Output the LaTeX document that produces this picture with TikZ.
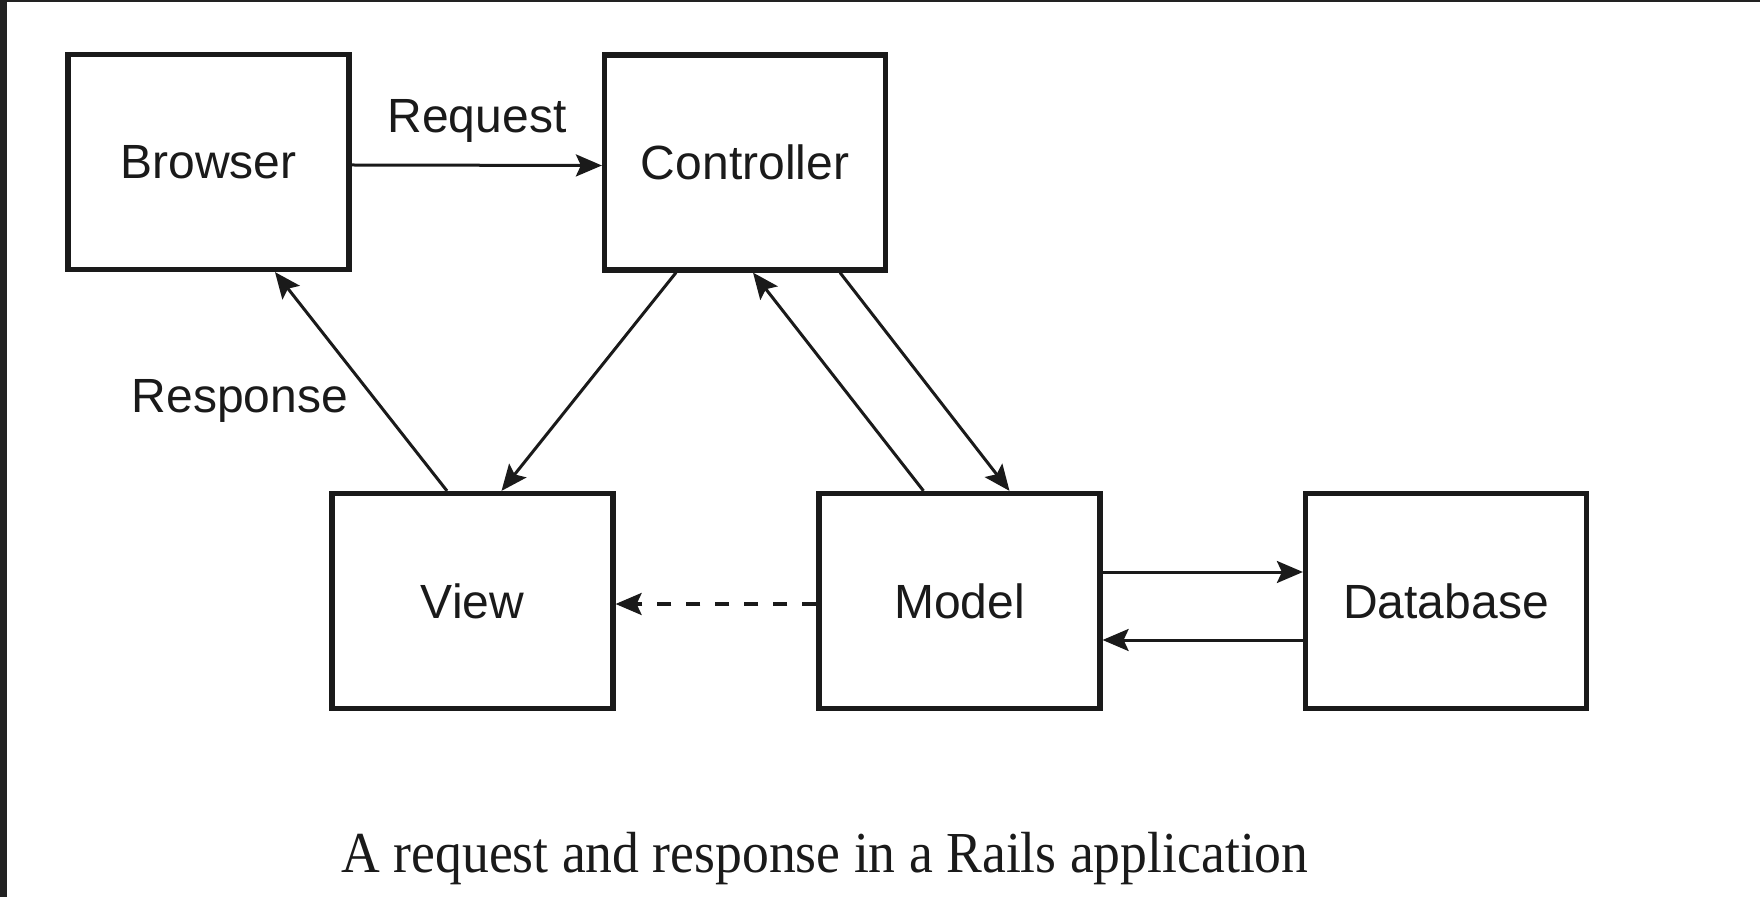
\documentclass[tikz,border=0pt]{standalone}
\usepackage{fontspec}
\setmainfont{Liberation Serif}
\setsansfont{Liberation Sans}
\usetikzlibrary{arrows.meta,calc}
\definecolor{frame}{HTML}{222222}
\definecolor{ink}{HTML}{1A1A1A}

\begin{document}
\begin{tikzpicture}[x=0.5pt,y=-0.5pt,
  box/.style={draw=ink, line width=2.6pt, minimum width=140.5pt, minimum height=107.5pt,
    inner sep=0pt, text=ink, font=\sffamily\fontsize{24}{28}\selectfont},
  flow/.style={draw=ink, line width=1.5pt, -{Stealth[length=13pt,width=11pt,inset=2.5pt]}},
  lbl/.style={text=ink, font=\sffamily\fontsize{24}{28}\selectfont, inner sep=0pt, anchor=base}]

  % canvas and the dark frame strips
  \useasboundingbox (0,0) rectangle (1760,897);
  \fill[white] (0,0) rectangle (1760,897);
  \fill[frame] (0,0) rectangle (1760,2.5);
  \fill[frame] (0,0) rectangle (7,897);

  % components
  \node[box] (brow) at (208.5,162) {Browser};
  \node[box] (ctrl) at (745,162.5) {Controller};
  \node[box] (view) at (472.5,601) {View};
  \node[box] (model) at (959.5,601) {Model};
  \node[box] (db) at (1446,601) {Database};

  % request / response
  \draw[flow] ($(brow.east)+(0,3)$) -- ($(ctrl.west)+(0,3)$);
  \node[lbl] (req) at (477,133) {Request};
  \draw[flow] ($(view.north)+(-25.5,0)$) -- ($(brow.south)+(66.5,0)$);
  \node[lbl] (resp) at (240,413) {Response};

  % controller, view and model
  \draw[flow] ($(ctrl.south)+(-69,0)$) -- ($(view.north)+(29,0)$);
  \draw[flow] ($(model.north)+(-36,0)$) -- ($(ctrl.south)+(8,0)$);
  \draw[flow] ($(ctrl.south)+(95,0)$) -- ($(model.north)+(50,0)$);
  \draw[flow, line width=1.7pt, dash pattern=on 7pt off 7.5pt] ($(model.west)+(0,3)$) -- ($(view.east)+(0,3)$);

  % model and database
  \draw[flow] ($(model.east)+(0,-29)$) -- ($(db.west)+(0,-29)$);
  \draw[flow] ($(db.west)+(0,39)$) -- ($(model.east)+(0,39)$);

  % caption
  \node[text=ink, font=\rmfamily\fontsize{29}{32}\selectfont, inner sep=0pt, anchor=base] (cap)
    at (825,872) {\scalebox{0.925}[1]{A request and response in a Rails application}};
\end{tikzpicture}
\end{document}
